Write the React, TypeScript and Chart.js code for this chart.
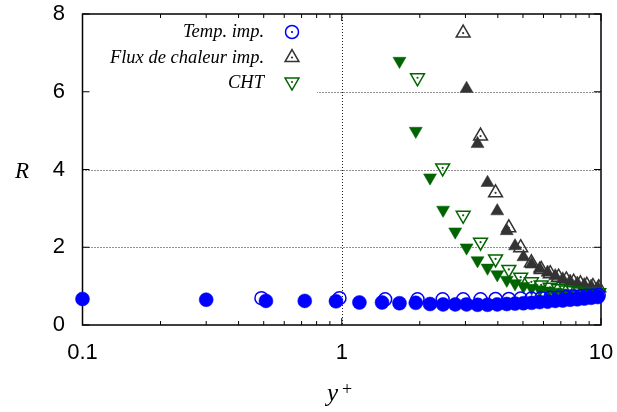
import React, { useEffect, useRef } from "react";
import { Chart, registerables } from "chart.js";
import { drawPoint } from "chart.js/helpers";

Chart.register(...registerables);

// y+ positions of the hollow-marker series (legend series)
const yPlusOpen = [0.49, 0.98, 1.47, 1.96, 2.45, 2.94, 3.43, 3.92, 4.41, 4.9, 5.39, 5.88, 6.37, 6.86, 7.35, 7.84, 8.33, 8.82, 9.31, 9.8];
// y+ positions of the filled-marker series
const yPlusFilled = [0.1, 0.3, 0.51, 0.72, 0.95, 1.17, 1.43, 1.67, 1.93, 2.19, 2.46, 2.74, 3.03, 3.34, 3.65, 3.98, 4.33, 4.66, 5.02, 5.4, 5.8, 6.22, 6.66, 7.12, 7.6, 8.1, 8.62, 9.16, 9.72];

const tempImpOpen = [0.69, 0.69, 0.66, 0.66, 0.66, 0.66, 0.66, 0.67, 0.67, 0.68, 0.68, 0.69, 0.7, 0.71, 0.72, 0.73, 0.74, 0.75, 0.76, 0.77];
const tempImpFilled = [0.67, 0.65, 0.62, 0.62, 0.61, 0.58, 0.58, 0.56, 0.57, 0.54, 0.53, 0.53, 0.53, 0.52, 0.52, 0.53, 0.54, 0.55, 0.56, 0.57, 0.59, 0.6, 0.62, 0.63, 0.65, 0.66, 0.68, 0.7, 0.72];

const fluxOpen = [null, null, null, null, null, 7.51, 4.86, 3.4, 2.5, 1.99, 1.6, 1.43, 1.32, 1.23, 1.16, 1.1, 1.06, 1.02, 0.99, 0.96];
const fluxFilled = [null, null, null, null, null, null, null, null, null, null, null, null, 6.08, 4.66, 3.66, 2.93, 2.42, 2.03, 1.75, 1.56, 1.45, 1.35, 1.26, 1.18, 1.12, 1.07, 1.03, 0.99, 0.95];

const chtOpen = [null, null, null, 6.36, 4.04, 2.82, 2.13, 1.7, 1.43, 1.23, 1.11, 1.03, 0.97, 0.93, 0.9, 0.88, 0.86, 0.85, 0.84, 0.83];
const chtFilled = [null, null, null, null, null, null, null, 6.79, 4.99, 3.79, 2.96, 2.4, 1.99, 1.66, 1.47, 1.3, 1.16, 1.07, 1.0, 0.95, 0.91, 0.88, 0.85, 0.83, 0.81, 0.8, 0.79, 0.78, 0.77];

const xTickValues = [0.1, 0.2, 0.3, 0.4, 0.5, 0.6, 0.7, 0.8, 0.9, 1, 2, 3, 4, 5, 6, 7, 8, 9, 10];
const xMajorTicks = [0.1, 1, 10];
const xTickLabels = ["0.1", "1", "10"];
const yTickValues = [0, 2, 4, 6, 8];
const yTickLabels = ["0", "2", "4", "6", "8"];
const legendLabels = ["Temp. imp.", "Flux de chaleur imp.", "CHT"];
const xTitle = "y";
const xTitleSup = "+";
const yTitle = "R";

const BLUE = "#0000ff";
const GRAY = "#333333";
const GREEN = "#006400";

function pts(xs: number[], ys: (number | null)[]) {
  const out: { x: number; y: number }[] = [];
  xs.forEach((x, i) => {
    const y = ys[i];
    if (y !== null && y !== undefined) out.push({ x, y });
  });
  return out;
}

function isMajor(v: number) {
  return xMajorTicks.some((m) => Math.abs(m - v) < 1e-9);
}

function zeroPad(s: any) {
  s.paddingLeft = 0;
  s.paddingRight = 0;
  s.paddingTop = 0;
  s.paddingBottom = 0;
}

const decorPlugin = {
  id: "decor",
  beforeDatasetsDraw(chart: any) {
    const { ctx, chartArea } = chart;
    const { left, right, top, bottom } = chartArea;
    const xs = chart.scales.x;
    const ys = chart.scales.y;
    ctx.save();
    // dotted grid at major ticks
    ctx.strokeStyle = "#222";
    ctx.lineWidth = 1;
    ctx.setLineDash([1, 2]);
    ctx.beginPath();
    const gx = Math.round(xs.getPixelForValue(1)) + 0.5;
    ctx.moveTo(gx, top);
    ctx.lineTo(gx, bottom);
    yTickValues.forEach((v) => {
      if (v === 0 || v === 8) return;
      const py = Math.round(ys.getPixelForValue(v)) + 0.5;
      ctx.moveTo(left, py);
      ctx.lineTo(right, py);
    });
    ctx.stroke();
    ctx.setLineDash([]);

    // legend box (opaque)
    ctx.fillStyle = "#fff";
    ctx.fillRect(left, top, 317 - left, 96 - top);

    // frame
    ctx.strokeStyle = "#000";
    ctx.lineWidth = 1.5;
    ctx.strokeRect(left, top, right - left, bottom - top);

    // inward ticks
    ctx.lineWidth = 1;
    ctx.beginPath();
    xTickValues.forEach((v) => {
      const px = xs.getPixelForValue(v);
      const len = isMajor(v) ? 7 : 4;
      ctx.moveTo(px, bottom);
      ctx.lineTo(px, bottom - len);
      ctx.moveTo(px, top);
      ctx.lineTo(px, top + len);
    });
    yTickValues.forEach((v) => {
      const py = ys.getPixelForValue(v);
      ctx.moveTo(left, py);
      ctx.lineTo(left + 7, py);
      ctx.moveTo(right, py);
      ctx.lineTo(right - 7, py);
    });
    ctx.stroke();

    // legend
    ctx.font = "italic 18.5px 'Liberation Serif'";
    ctx.fillStyle = "#000";
    ctx.textAlign = "right";
    ctx.textBaseline = "alphabetic";
    const baselines = [37, 62.5, 88];
    const markerY = [32, 57.5, 82];
    const styles = [
      { color: BLUE, pointStyle: "circle", rotation: 0, radius: 6.5 },
      { color: GRAY, pointStyle: "triangle", rotation: 0, radius: 8 },
      { color: GREEN, pointStyle: "triangle", rotation: 180, radius: 8 },
    ];
    legendLabels.forEach((lab, i) => {
      ctx.fillStyle = "#000";
      ctx.fillText(lab, 264, baselines[i]);
      const st = styles[i];
      ctx.fillStyle = "rgba(0,0,0,0)";
      ctx.strokeStyle = st.color;
      ctx.lineWidth = 1.5;
      drawPoint(ctx, { pointStyle: st.pointStyle, rotation: st.rotation, radius: st.radius, borderWidth: 1.5 } as any, 292, markerY[i]);
      ctx.fillStyle = st.color;
      ctx.beginPath();
      ctx.arc(292, markerY[i], 1.1, 0, Math.PI * 2);
      ctx.fill();
    });
    ctx.restore();
  },
  afterDraw(chart: any) {
    const { ctx } = chart;
    ctx.save();
    ctx.fillStyle = "#000";
    ctx.textAlign = "center";
    ctx.textBaseline = "alphabetic";
    ctx.font = "italic 23px 'Liberation Serif'";
    ctx.fillText(yTitle, 22, 178);
    ctx.textAlign = "left";
    ctx.font = "italic 25px 'Liberation Serif'";
    ctx.fillText(xTitle, 327, 401);
    ctx.font = "18px 'Liberation Serif'";
    ctx.fillText(xTitleSup, 342, 395);
    ctx.restore();
  },
};

export default function App() {
  const ref = useRef<HTMLCanvasElement | null>(null);
  useEffect(() => {
    if (!ref.current) return;
    const openDs = (label: string, xs: number[], ys: (number | null)[], color: string, style: string, rot: number, r: number, order: number) => ({
      label,
      data: pts(xs, ys),
      pointStyle: style,
      pointRotation: rot,
      pointRadius: r,
      pointBorderWidth: 1.5,
      pointBorderColor: color,
      pointBackgroundColor: "rgba(0,0,0,0)",
      showLine: false,
      clip: false,
      order,
    });
    const dotDs = (label: string, xs: number[], ys: (number | null)[], color: string, order: number) => ({
      label,
      data: pts(xs, ys),
      pointStyle: "circle",
      pointRadius: 1.1,
      pointBorderWidth: 0,
      pointBackgroundColor: color,
      showLine: false,
      clip: false,
      order,
    });
    const filledDs = (label: string, xs: number[], ys: (number | null)[], color: string, style: string, rot: number, r: number, order: number) => ({
      label,
      data: pts(xs, ys),
      pointStyle: style,
      pointRotation: rot,
      pointRadius: r,
      pointBorderWidth: 0.5,
      pointBorderColor: color,
      pointBackgroundColor: color,
      showLine: false,
      clip: false,
      order,
    });
    const chart = new Chart(ref.current, {
      type: "scatter",
      data: {
        datasets: [
          filledDs("flux filled", yPlusFilled, fluxFilled, GRAY, "triangle", 0, 7.5, 12),
          openDs(legendLabels[1], yPlusOpen, fluxOpen, GRAY, "triangle", 0, 8, 11),
          dotDs("flux dot", yPlusOpen, fluxOpen, GRAY, 10),
          openDs(legendLabels[2], yPlusOpen, chtOpen, GREEN, "triangle", 180, 8, 9),
          dotDs("cht dot", yPlusOpen, chtOpen, GREEN, 8),
          filledDs("cht filled", yPlusFilled, chtFilled, GREEN, "triangle", 180, 7.5, 7),
          openDs(legendLabels[0], yPlusOpen, tempImpOpen, BLUE, "circle", 0, 6.5, 6),
          dotDs("temp dot", yPlusOpen, tempImpOpen, BLUE, 5),
          filledDs("temp filled", yPlusFilled, tempImpFilled, BLUE, "circle", 0, 7, 4),
        ] as any,
      },
      options: {
        animation: false,
        responsive: false,
        devicePixelRatio: 1,
        layout: { padding: { top: 14, right: 16, left: 0, bottom: 0 } },
        plugins: { legend: { display: false }, tooltip: { enabled: false } },
        scales: {
          x: {
            type: "logarithmic",
            min: 0.1,
            max: 10,
            afterBuildTicks: (s: any) => {
              s.ticks = xTickValues.map((v) => ({ value: v }));
            },
            afterFit: (s: any) => {
              s.height = 87;
              zeroPad(s);
            },
            ticks: {
              autoSkip: false,
              maxRotation: 0,
              minRotation: 0,
              padding: 15,
              color: "#000",
              font: { family: "'Liberation Sans'", size: 22 },
              callback: (v: any) => {
                const idx = xMajorTicks.findIndex((m) => Math.abs(m - Number(v)) < 1e-9);
                return idx >= 0 ? xTickLabels[idx] : "";
              },
            },
            grid: { display: false, drawTicks: false },
            border: { display: false },
          },
          y: {
            type: "linear",
            min: 0,
            max: 8,
            afterBuildTicks: (s: any) => {
              s.ticks = yTickValues.map((v) => ({ value: v }));
            },
            afterFit: (s: any) => {
              s.width = 82.5;
              zeroPad(s);
            },
            ticks: {
              padding: 17.5,
              color: "#000",
              font: { family: "'Liberation Sans'", size: 22 },
              callback: (v: any) => {
                const idx = yTickValues.indexOf(Number(v));
                return idx >= 0 ? yTickLabels[idx] : "";
              },
            },
            grid: { display: false, drawTicks: false },
            border: { display: false },
          },
        },
      } as any,
      plugins: [decorPlugin],
    });
    return () => chart.destroy();
  }, []);
  return (
    <div style={{ position: "absolute", left: 0, top: 0, width: 617, height: 412, background: "#fff" }}>
      <canvas ref={ref} width={617} height={412} />
    </div>
  );
}
